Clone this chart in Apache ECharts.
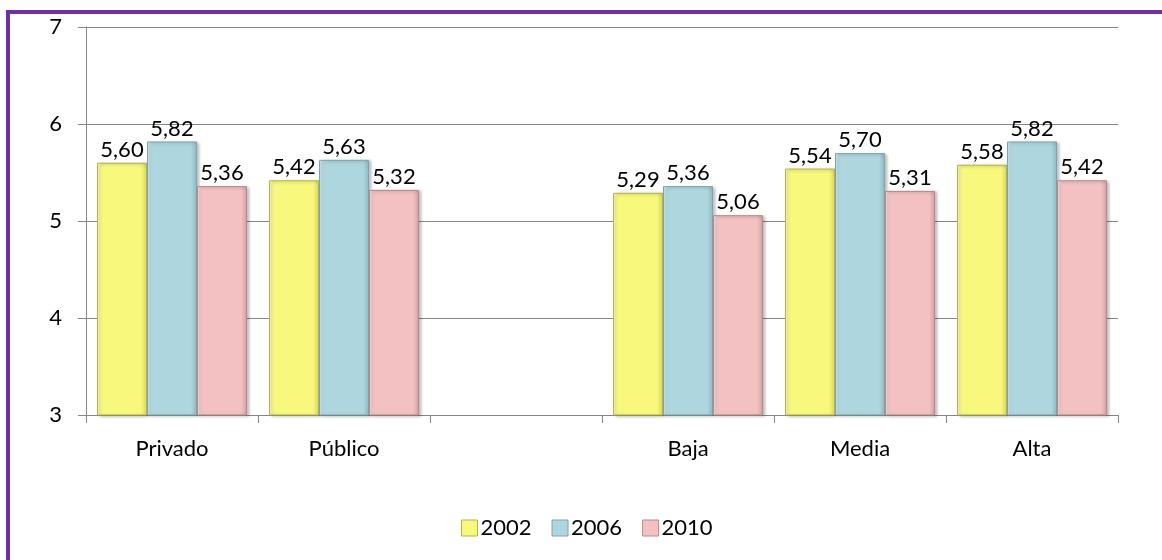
<!DOCTYPE html>
<html>
<head>
<meta charset="utf-8">
<script src="https://cdn.jsdelivr.net/npm/echarts@6/dist/echarts.min.js"></script>
<style>
  html, body { margin: 0; padding: 0; background: #fff; }
  #main { width: 1162px; height: 560px; }
</style>
</head>
<body>
<div id="main"></div>
<script>
// categorias (la tercera va vacía, separa los dos grupos)
var categories = ['Privado', 'Público', '', 'Baja', 'Media', 'Alta'];
var seriesNames = ['2002', '2006', '2010'];
var data2002 = [5.60, 5.42, null, 5.29, 5.54, 5.58];
var data2006 = [5.82, 5.63, null, 5.36, 5.70, 5.82];
var data2010 = [5.36, 5.32, null, 5.06, 5.31, 5.42];
var yTicks = [3, 4, 5, 6, 7];

var colors = ['#f8f87c', '#aed6df', '#f3c1c1'];
var lights = ['#fcfcc0', '#d8eef3', '#fae0e0'];
var darks = ['#d6d65e', '#8fb7c0', '#d2a0a0'];
var edges = ['#b5b54a', '#7fa3ab', '#b58a8a'];
var font = 'Lato, "Open Sans", sans-serif';

function bevel(i) {
    // simula el bisel de Excel con un degradado horizontal suave
    return {
        color: new echarts.graphic.LinearGradient(0, 0, 1, 0, [
            { offset: 0, color: lights[i] },
            { offset: 0.1, color: colors[i] },
            { offset: 0.88, color: colors[i] },
            { offset: 1, color: darks[i] }
        ]),
        borderColor: edges[i],
        borderWidth: 1,
        shadowColor: 'rgba(0,0,0,0.25)',
        shadowBlur: 3,
        shadowOffsetX: 2,
        shadowOffsetY: 1
    };
}

function makeSeries(name, values, idx) {
    return {
        name: name,
        type: 'bar',
        barWidth: 50,
        barGap: '0%',
        data: values,
        itemStyle: bevel(idx),
        label: {
            show: true,
            position: 'top',
            distance: 2,
            color: '#000',
            fontSize: 22,
            fontFamily: font,
            formatter: function (p) {
                return p.value == null ? '' : p.value.toFixed(2).replace('.', ',');
            }
        }
    };
}

var option = {
    animation: false,
    backgroundColor: '#fff',
    color: colors,
    graphic: [{
        type: 'rect',
        shape: { x: 8, y: 12, width: 1300, height: 700 },
        style: { fill: 'none', stroke: '#7030a0', lineWidth: 4 },
        z: 100
    }],
    grid: { left: 86, right: 44, top: 27, height: 388 },
    legend: {
        data: seriesNames.map(function (n, i) {
            return { name: n, itemStyle: { color: colors[i], borderColor: edges[i], borderWidth: 1 } };
        }),
        left: 456,
        top: 512,
        icon: 'rect',
        itemWidth: 16,
        itemHeight: 16,
        itemGap: 20,
        textStyle: { fontSize: 22, fontFamily: font, color: '#000', padding: [0, 0, 0, -2] }
    },
    xAxis: {
        type: 'category',
        data: categories,
        axisLine: { lineStyle: { color: '#868686', width: 1 } },
        axisTick: { show: true, length: 8, lineStyle: { color: '#868686' } },
        axisLabel: { margin: 23, fontSize: 22, fontFamily: font, color: '#000' },
        splitLine: { show: false }
    },
    yAxis: {
        type: 'value',
        min: yTicks[0],
        max: yTicks[yTicks.length - 1],
        interval: 1,
        axisLine: { show: true, lineStyle: { color: '#868686', width: 1 } },
        axisTick: { show: true, length: 8, lineStyle: { color: '#868686' } },
        axisLabel: { margin: 24, fontSize: 22, fontFamily: font, color: '#000' },
        splitLine: { show: true, lineStyle: { color: '#868686', width: 1 } }
    },
    series: [
        makeSeries(seriesNames[0], data2002, 0),
        makeSeries(seriesNames[1], data2006, 1),
        makeSeries(seriesNames[2], data2010, 2)
    ]
};

var chart = echarts.init(document.getElementById('main'));
chart.setOption(option);
</script>
</body>
</html>
